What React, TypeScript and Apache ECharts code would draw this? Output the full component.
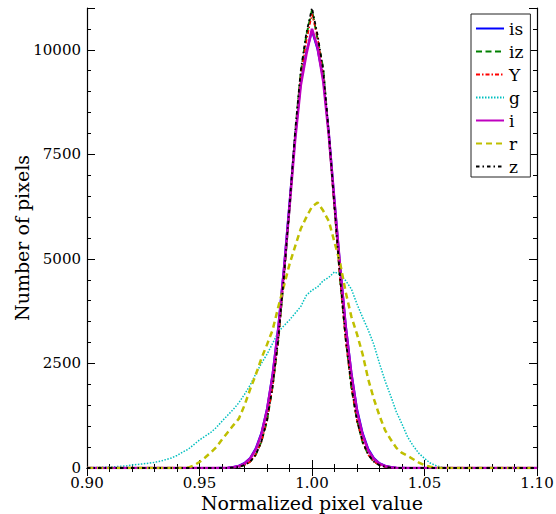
import React, { useEffect, useRef } from "react";
import * as echarts from "echarts";

const bins = [
  0.9, 0.9025, 0.905, 0.9075, 0.91, 0.9125, 0.915, 0.9175, 0.92, 0.9225,
  0.925, 0.9275, 0.93, 0.9325, 0.935, 0.9375, 0.94, 0.9425, 0.945, 0.9475,
  0.95, 0.9525, 0.955, 0.9575, 0.96, 0.9625, 0.965, 0.9675, 0.97, 0.9725,
  0.975, 0.9775, 0.98, 0.9825, 0.985, 0.9875, 0.99, 0.9925, 0.995, 0.9975,
  1.0, 1.0025, 1.005, 1.0075, 1.01, 1.0125, 1.015, 1.0175, 1.02, 1.0225,
  1.025, 1.0275, 1.03, 1.0325, 1.035, 1.0375, 1.04, 1.0425, 1.045, 1.0475,
  1.05, 1.0525, 1.055, 1.0575, 1.06, 1.0625, 1.065, 1.0675, 1.07, 1.0725,
  1.075, 1.0775, 1.08, 1.0825, 1.085, 1.0875, 1.09, 1.0925, 1.095, 1.0975,
  1.1,
];

const isVals = [
  0, 0, 0, 0, 0, 0, 0, 0, 0, 0,
  0, 0, 0, 0, 0, 0, 0, 0, 0, 0,
  0, 0, 0, 0, 3, 8, 22, 55, 120, 240,
  470, 840, 1420, 2260, 3380, 4780, 6350, 7900, 9200, 9950,
  10450, 10000, 9300, 8000, 6400, 4850, 3420, 2290, 1420, 840,
  460, 240, 115, 55, 22, 8, 3, 0, 0, 0,
  0, 0, 0, 0, 0, 0, 0, 0, 0, 0,
  0, 0, 0, 0, 0, 0, 0, 0, 0, 0,
  0,
];

const izVals = [
  0, 0, 0, 0, 0, 0, 0, 0, 0, 0,
  0, 0, 0, 0, 0, 0, 0, 0, 0, 0,
  0, 0, 0, 0, 0, 0, 11, 28, 68, 150,
  315, 630, 1120, 1960, 3040, 4550, 6180, 8000, 9450, 10350,
  10950, 10250, 9550, 7920, 6260, 4490, 3100, 1920, 1150, 610,
  325, 148, 70, 27, 10, 0, 0, 0, 0, 0,
  0, 0, 0, 0, 0, 0, 0, 0, 0, 0,
  0, 0, 0, 0, 0, 0, 0, 0, 0, 0,
  0,
];

const yVals = [
  0, 0, 0, 0, 0, 0, 0, 0, 0, 0,
  0, 0, 0, 0, 0, 0, 0, 0, 0, 0,
  0, 0, 0, 0, 0, 0, 10, 30, 65, 145,
  320, 615, 1135, 1930, 3060, 4500, 6200, 7900, 9400, 10200,
  10850, 10300, 9400, 7900, 6150, 4470, 3030, 1950, 1120, 630,
  310, 155, 66, 29, 12, 0, 0, 0, 0, 0,
  0, 0, 0, 0, 0, 0, 0, 0, 0, 0,
  0, 0, 0, 0, 0, 0, 0, 0, 0, 0,
  0,
];

const gVals = [
  5, 10, 15, 20, 24, 30, 40, 50, 72, 85,
  100, 115, 135, 160, 200, 240, 300, 380, 450, 560,
  670, 760, 850, 970, 1120, 1260, 1400, 1560, 1760, 1980,
  2250, 2500, 2720, 2980, 3250, 3400, 3540, 3700, 3860, 4130,
  4250, 4330, 4480, 4560, 4690, 4620, 4480, 4280, 3920, 3600,
  3300, 2950, 2500, 2080, 1720, 1340, 1050, 740, 530, 350,
  230, 120, 60, 15, 5, 0, 0, 0, 0, 0,
  0, 0, 0, 0, 0, 0, 0, 0, 0, 0,
  0,
];

const iVals = [
  0, 0, 0, 0, 0, 0, 0, 0, 0, 0,
  0, 0, 0, 0, 0, 0, 0, 0, 0, 0,
  0, 0, 0, 0, 0, 6, 18, 45, 105, 220,
  440, 800, 1380, 2200, 3300, 4700, 6250, 7850, 9150, 9900,
  10500, 10050, 9250, 7950, 6350, 4800, 3350, 2230, 1350, 790,
  420, 215, 100, 45, 18, 6, 0, 0, 0, 0,
  0, 0, 0, 0, 0, 0, 0, 0, 0, 0,
  0, 0, 0, 0, 0, 0, 0, 0, 0, 0,
  0,
];

const rVals = [
  0, 0, 0, 0, 0, 0, 0, 0, 0, 0,
  0, 0, 0, 0, 0, 0, 0, 0, 10, 60,
  144, 250, 370, 500, 680, 850, 1020, 1180, 1500, 1880,
  2230, 2620, 2950, 3300, 3850, 4350, 4870, 5300, 5720, 6000,
  6250, 6350, 6150, 5900, 5400, 4900, 4200, 3620, 3200, 2720,
  2120, 1650, 1250, 900, 680, 480, 360, 290, 210, 130,
  70, 30, 10, 0, 0, 0, 0, 0, 0, 0,
  0, 0, 0, 0, 0, 0, 0, 0, 0, 0,
  0,
];

const zVals = [
  0, 0, 0, 0, 0, 0, 0, 0, 0, 0,
  0, 0, 0, 0, 0, 0, 0, 0, 0, 0,
  0, 0, 0, 0, 0, 0, 12, 26, 70, 148,
  318, 625, 1150, 1945, 3080, 4560, 6250, 8050, 9500, 10400,
  11000, 10350, 9520, 8000, 6240, 4540, 3060, 1960, 1130, 625,
  318, 152, 68, 28, 11, 0, 0, 0, 0, 0,
  0, 0, 0, 0, 0, 0, 0, 0, 0, 0,
  0, 0, 0, 0, 0, 0, 0, 0, 0, 0,
  0,
];

const seriesNames = ["is", "iz", "Y", "g", "i", "r", "z"];
const seriesValues = [isVals, izVals, yVals, gVals, iVals, rVals, zVals];
const seriesColors = ["#0000ff", "#008000", "#ff0000", "#00bfbf", "#bf00bf", "#bfbf00", "#000000"];
const seriesWidths = [2, 2, 1.5, 1.5, 2.6, 2.5, 1.8];
const seriesDash: (string | number[])[] = [
  "solid",
  [6, 3.5],
  [4, 2, 1.5, 2],
  [1.5, 1.5],
  "solid",
  [6, 4],
  [3.5, 3, 1.5, 3],
];

const xTickMin = 0.9;
const xTickMax = 1.1;
const xTickStep = 0.05;
const yTickMin = 0;
const yTickMax = 11000;
const yTickStep = 2500;
const yMinorStep = 500;

const FONT = "DejaVu Serif";

export default function App() {
  const ref = useRef<HTMLDivElement>(null);

  useEffect(() => {
    const chart = echarts.init(ref.current!, null, { renderer: "svg" });
    const axisLine = { show: true, lineStyle: { color: "#000", width: 1.2 } };
    const majorTick = { show: true, inside: true, length: 8, lineStyle: { color: "#000", width: 1 } };
    const minorTickStyle = { show: true, inside: true, length: 4, lineStyle: { color: "#000", width: 1 } };

    const xBase = {
      type: "value" as const,
      min: xTickMin,
      max: xTickMax,
      interval: xTickStep,
      axisLine,
      axisTick: majorTick,
      minorTick: { ...minorTickStyle, splitNumber: 5 },
      splitLine: { show: false },
      minorSplitLine: { show: false },
    };
    const yBase = {
      type: "value" as const,
      min: yTickMin,
      max: yTickMax,
      splitLine: { show: false },
    };

    const option: any = {
      animation: false,
      backgroundColor: "#fff",
      grid: {
        left: 87,
        right: 19,
        top: 8,
        bottom: 46,
        containLabel: false,
        outerBoundsMode: "none",
      },
      xAxis: [
        {
          ...xBase,
          position: "bottom",
          name: "Normalized pixel value",
          nameLocation: "middle",
          nameMoveOverlap: false,
          nameGap: 25,
          nameTextStyle: { fontFamily: FONT, fontSize: 19, color: "#000" },
          axisLabel: {
            show: true,
            margin: 7,
            fontFamily: FONT,
            fontSize: 15,
            color: "#000",
            formatter: (v: number) => v.toFixed(2),
          },
        },
        {
          ...xBase,
          position: "top",
          axisLabel: { show: false },
        },
      ],
      yAxis: [
        {
          ...yBase,
          position: "left",
          interval: yTickStep,
          axisLine,
          axisTick: majorTick,
          name: "Number of pixels",
          nameLocation: "middle",
          nameMoveOverlap: false,
          nameGap: 56,
          nameTextStyle: { fontFamily: FONT, fontSize: 19, color: "#000" },
          axisLabel: {
            show: true,
            margin: 6,
            fontFamily: FONT,
            fontSize: 15,
            color: "#000",
            formatter: (v: number) => (v > 10000 ? "" : String(v)),
          },
        },
        {
          ...yBase,
          position: "left",
          interval: yMinorStep,
          axisLine: { show: false },
          axisTick: minorTickStyle,
          axisLabel: { show: false },
        },
        {
          ...yBase,
          position: "right",
          interval: yTickStep,
          axisLine,
          axisTick: majorTick,
          axisLabel: { show: false },
        },
        {
          ...yBase,
          position: "right",
          interval: yMinorStep,
          axisLine: { show: false },
          axisTick: minorTickStyle,
          axisLabel: { show: false },
        },
      ],
      legend: {
        data: seriesNames,
        orient: "vertical",
        left: 471,
        top: 14,
        itemWidth: 28,
        itemHeight: 17,
        itemGap: 6,
        padding: [6, 7, 2, 4],
        borderColor: "#222",
        borderWidth: 1,
        borderRadius: 0,
        backgroundColor: "#fff",
        itemStyle: { opacity: 0 },
        textStyle: { fontFamily: FONT, fontSize: 17, color: "#000" },
      },
      series: seriesNames.map((name, si) => ({
        name,
        type: "line",
        xAxisIndex: 0,
        yAxisIndex: 0,
        symbol: "none",
        showSymbol: false,
        smooth: false,
        color: seriesColors[si],
        itemStyle: { opacity: 0 },
        lineStyle: { color: seriesColors[si], width: seriesWidths[si], type: seriesDash[si] },
        data: bins.map((x, k) => [x, seriesValues[si][k]]),
        z: 2 + si,
      })),
    };

    chart.setOption(option);
    return () => chart.dispose();
  }, []);

  return (
    <div
      ref={ref}
      style={{ position: "fixed", left: 0, top: 0, width: 556, height: 514 }}
    />
  );
}
